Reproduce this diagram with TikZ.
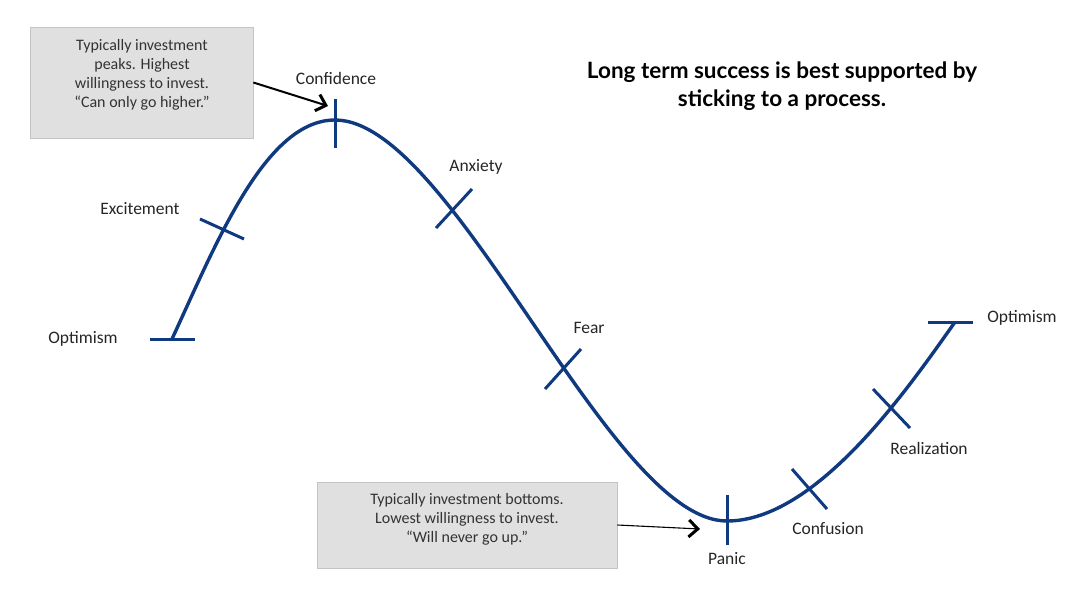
\documentclass[tikz,border=0pt]{standalone}
\usepackage{fontspec}
\setmainfont{Carlito}
\newfontfamily\titlefont{Lato}
\usetikzlibrary{arrows.meta}
\definecolor{curveblue}{RGB}{16,58,128}
\definecolor{boxfill}{RGB}{224,224,224}
\definecolor{boxline}{RGB}{196,196,196}
\begin{document}
\begin{tikzpicture}[x=1pt,y=-1pt,
  lbl/.style={font=\fontsize{17.5}{21}\selectfont, inner sep=0pt, text=black!85},
  boxtext/.style={font=\fontsize{16}{19}\selectfont, inner sep=0pt, align=center, text=black!80},
  greybox/.style={draw=boxline, fill=boxfill, line width=0.8pt, inner sep=0pt},
  curve/.style={draw=curveblue, line width=3.4pt},
  tickmark/.style={draw=curveblue, line width=3pt},
  callout/.style={draw=black, -{Straight Barb[length=9pt,width=17pt,line width=3pt]}},
]
\useasboundingbox (0,0) rectangle (1089,595);
\fill[white] (0,0) rectangle (1089,595);

% grey boxes
\node[greybox, minimum width=223pt, minimum height=111pt] (tbox) at (141.5,82.5) {};
\node[boxtext] (ttext) at (142,75) {Typically investment\\peaks. Highest\\willingness to invest.\\``Can only go higher.''};
\node[greybox, minimum width=300pt, minimum height=86pt] (bbox) at (467,525) {};
\node[boxtext] (btext) at (467,519) {Typically investment bottoms.\\Lowest willingness to invest.\\``Will never go up.''};

% curve
\draw[curve] (172,339) .. controls (216,244) and (265,120) .. (335,120)
  .. controls (453,120) and (609,521) .. (727,521)
  .. controls (817,521) and (909,387) .. (955,322);

% ticks
\draw[tickmark] (150,339) -- (195,339);
\draw[tickmark] (200,219) -- (244,239);
\draw[tickmark] (335,99) -- (335,148);
\draw[tickmark] (436,228) -- (472,189);
\draw[tickmark] (545,389) -- (581,349);
\draw[tickmark] (727,495) -- (727,545);
\draw[tickmark] (792,469) -- (827,509);
\draw[tickmark] (873,389) -- (910,428);
\draw[tickmark] (928,322) -- (973,322);

% labels
\node[lbl] (l1) at (83,339) {Optimism};
\node[lbl] (l2) at (140,209) {Excitement};
\node[lbl] (l3) at (336,78) {Confidence};
\node[lbl] (l4) at (476,167) {Anxiety};
\node[lbl] (l5) at (589,328) {Fear};
\node[lbl] (l6) at (727,559) {Panic};
\node[lbl] (l7) at (828,529) {Confusion};
\node[lbl] (l8) at (929,448) {Realization};
\node[lbl] (l9) at (1022,318) {Optimism};

% title
\node[font=\titlefont\bfseries\fontsize{22.5}{28}\selectfont, align=center, inner sep=0pt] (title) at (782,86)
  {Long term success is best supported by\\sticking to a process.};

% callout arrows
\coordinate (conftip) at (328,106);
\coordinate (panictip) at (700,529);
\draw[callout, line width=2pt] (tbox.east) -- (conftip);
\draw[callout, line width=1.1pt] (bbox.east) -- (panictip);
\end{tikzpicture}
\end{document}
